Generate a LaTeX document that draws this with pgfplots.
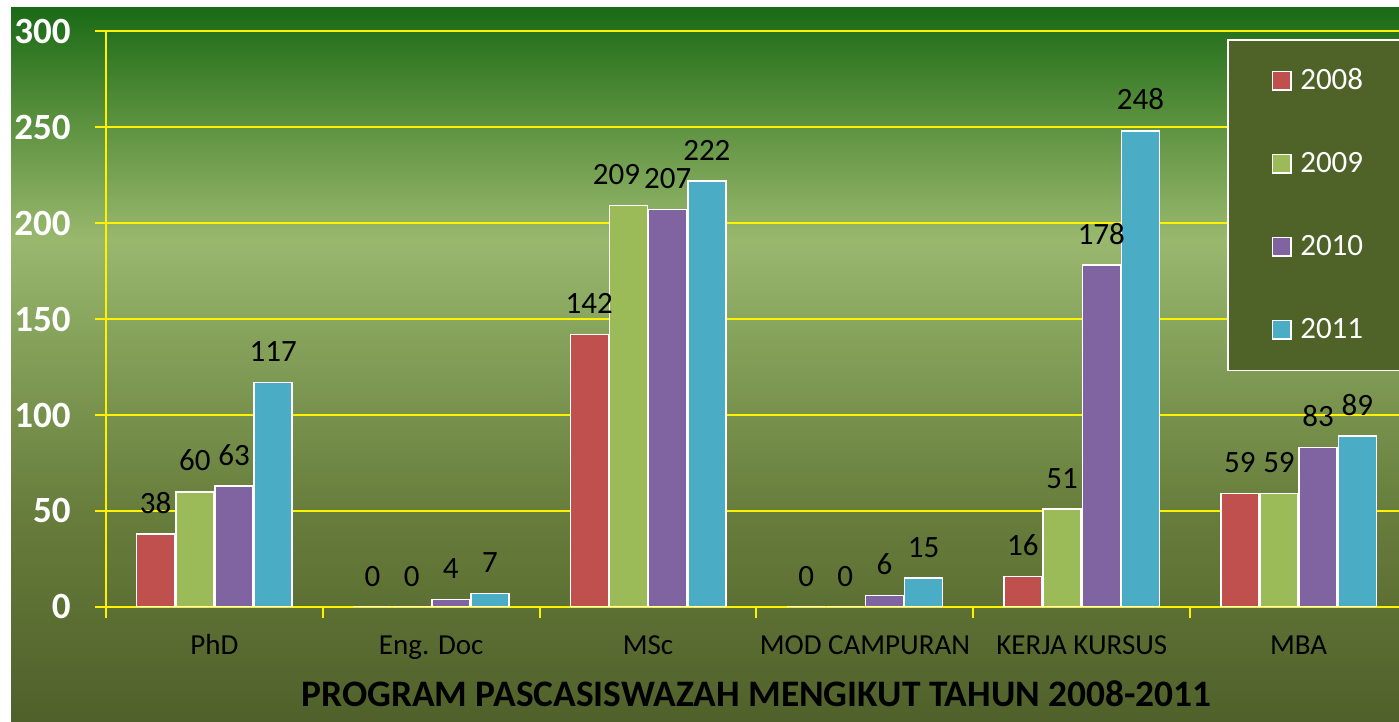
\documentclass[border=0pt]{standalone}
\usepackage{pgfplots}
\pgfplotsset{compat=1.18}
\usepackage{fontspec}
\setmainfont{Carlito}
\definecolor{c0}{RGB}{80,96,42}
\definecolor{c1}{RGB}{104,126,60}
\definecolor{c2}{RGB}{128,156,86}
\definecolor{c3}{RGB}{153,184,110}
\definecolor{c4}{RGB}{88,143,60}
\definecolor{c5}{RGB}{26,106,22}
\definecolor{bred}{RGB}{192,80,77}
\definecolor{bgreen}{RGB}{155,187,89}
\definecolor{bpurple}{RGB}{128,100,162}
\definecolor{bblue}{RGB}{75,172,198}
\definecolor{legbg}{RGB}{79,98,40}
\pgfdeclareverticalshading{bgshade}{100bp}{color(0bp)=(c0); color(25bp)=(c0); color(40bp)=(c1); color(50bp)=(c2); color(58.75bp)=(c3); color(67.5bp)=(c4); color(75bp)=(c5); color(100bp)=(c5)}
\begin{document}
\begin{tikzpicture}
\useasboundingbox (0,0) rectangle (699.5pt,361pt);
\fill[white] (0,0) rectangle (699.5pt,361pt);
\shade[shading=bgshade] (5.5pt,0) rectangle (699.5pt,357pt);
\begin{scope}
\clip (0,0) rectangle (699.5pt,361pt);
\begin{axis}[
  at={(53pt,57.5pt)}, anchor=south west,
  scale only axis, width=650.5pt, height=288pt,
  ybar=0.6pt, bar width=19pt,
  every axis plot post/.append style={legend image code/.code={\draw[##1,draw=white,line width=0.75pt] (0pt,-5pt) rectangle (9.3pt,4.3pt);}},
  xmin=-0.5, xmax=5.5, ymin=0, ymax=300, enlarge x limits=false,
  axis x line*=bottom, axis y line*=left,
  axis line style={yellow, line width=1pt},
  tick style={yellow, line width=1pt},
  tick align=outside, major tick length=5.5pt,
  ytick={0,50,...,300},
  ymajorgrids, grid style={yellow, line width=1pt},
  xtick={-0.5,0.5,...,5.5}, xticklabels={},
  extra x ticks={0,1,2,3,4,5},
  extra x tick labels={PhD,Eng. Doc,MSc,MOD CAMPURAN,KERJA KURSUS,MBA},
  extra x tick style={major tick length=0pt, grid=none, xticklabel style={font=\fontsize{14.5}{14.5}\selectfont, text=black, anchor=base, inner sep=0pt, yshift=-24pt}},
  yticklabel style={font=\fontsize{18.5}{18.5}\selectfont\bfseries, text=white, anchor=east, inner sep=0pt, xshift=-12pt},
  /pgf/number format/assume math mode=true,
  xlabel={PROGRAM PASCASISWAZAH MENGIKUT TAHUN 2008-2011},
  xlabel style={at={(axis description cs:0.5,0)}, anchor=base, inner sep=0pt, yshift=-50pt, font=\fontsize{18.7}{18.7}\selectfont\bfseries, text=black},
  nodes near coords,
  nodes near coords style={anchor=south, inner sep=0pt, yshift=10pt, font=\fontsize{15.5}{15.5}\selectfont, text=black},
  legend style={at={(axis description cs:0.8617,0.9861)}, anchor=north west, fill=legbg, draw=white, line width=0.75pt,
    font=\fontsize{15.5}{15.5}\selectfont, text=white, inner xsep=22pt, inner ysep=15.3pt, row sep=31.3pt,
    nodes={inner sep=0pt, text height=9.7pt, text depth=0pt},
    /tikz/every odd column/.append style={column sep=4.2pt}},
  legend cell align=left,
]
\addplot[fill=bred, draw=white, line width=0.75pt] coordinates {(0,38) (1,0) (2,142) (3,0) (4,16) (5,59)};
\addplot[fill=bgreen, draw=white, line width=0.75pt, coordinate style/.condition={x==2}{xshift=-6pt}] coordinates {(0,60) (1,0) (2,209) (3,0) (4,51) (5,59)};
\addplot[fill=bpurple, draw=white, line width=0.75pt] coordinates {(0,63) (1,4) (2,207) (3,6) (4,178) (5,83)};
\addplot[fill=bblue, draw=white, line width=0.75pt] coordinates {(0,117) (1,7) (2,222) (3,15) (4,248) (5,89)};
\legend{2008,2009,2010,2011}
\end{axis}
\end{scope}
\end{tikzpicture}
\end{document}
